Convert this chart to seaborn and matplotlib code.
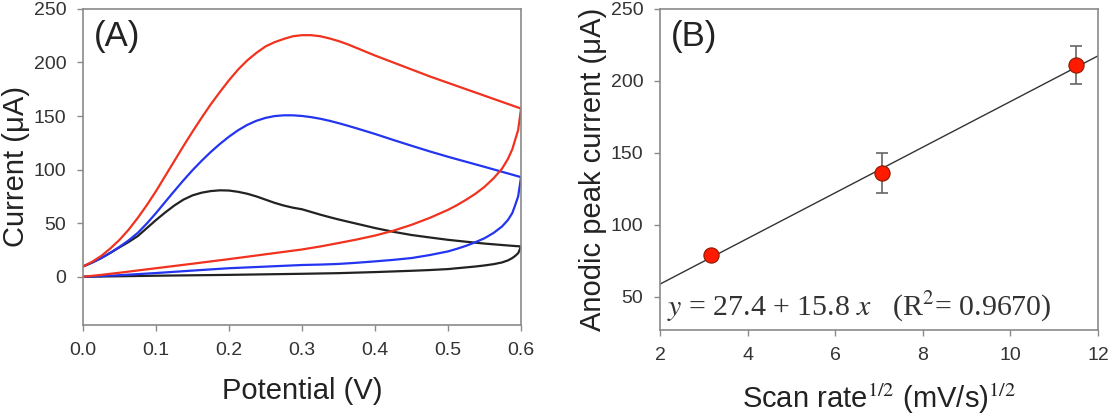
import pandas as pd
import seaborn as sns
import matplotlib.pyplot as plt

# (A) cyclic voltammograms: forward (anodic) and reverse branches
potential_fwd = [0.0, 0.0125, 0.025, 0.0375, 0.05, 0.0625, 0.075, 0.0875,
                 0.1, 0.1125, 0.125, 0.1375, 0.15, 0.1625, 0.175, 0.1875,
                 0.2, 0.2125, 0.225, 0.2375, 0.25, 0.2625, 0.275, 0.2875,
                 0.3, 0.3125, 0.325, 0.3375, 0.35, 0.3625, 0.375,
                 0.4, 0.425, 0.45, 0.475, 0.5, 0.525, 0.55, 0.575, 0.6]
red_fwd = [9.6, 14, 19.5, 26.5, 34.5, 44, 55, 67, 80, 94, 108, 122, 135.5,
           148.5, 161, 172.5, 183.5, 193.5, 202, 209, 215, 219, 222, 224.5,
           225.5, 225.5, 224.5, 222.5, 220, 217, 213.5, 206.5, 200, 193.5,
           187, 181, 175, 169, 163, 157]
blue_fwd = [9.6, 13.3, 17.5, 22.5, 28, 34, 41, 49.8, 59.5, 69.8, 80, 90,
            99.5, 108.3, 116.5, 124, 130.8, 136.8, 141.8, 145.6, 148.3, 150,
            150.7, 150.7, 150.1, 149, 147.5, 145.6, 143.4, 141, 138.5, 133.3,
            127.7, 122.3, 117, 112, 107.3, 102.6, 97.8, 93]
black_fwd = [9.6, 13.3, 17.5, 22.3, 27.5, 32.5, 38, 45.5, 53, 60, 66.5, 72,
             76, 78.5, 80, 80.7, 80.5, 79.3, 77.5, 75, 72, 69, 66.5, 64.5,
             63, 60.5, 58, 55.7, 53.5, 51.5, 49.5, 45.5, 42, 39, 36.7, 34.5,
             32.7, 31, 29.6, 28.3]

potential_rev = [0.6, 0.598, 0.596, 0.592, 0.588, 0.582, 0.574, 0.5625, 0.55,
                 0.5375, 0.525, 0.5125, 0.5, 0.475, 0.45, 0.425, 0.4, 0.375,
                 0.35, 0.325, 0.3, 0.25, 0.2, 0.15, 0.1, 0.05, 0.025, 0.0]
red_rev = [157, 147, 137, 128, 119, 110, 101, 92, 84, 77.5, 72, 67, 62.5, 55,
           48.5, 43, 38.5, 34.8, 31.5, 28.3, 25.5, 21, 16.5, 12.2, 8, 3.8,
           1.8, 0]
blue_rev = [93, 84, 75, 67, 59.5, 53, 47, 41, 36, 32.3, 29, 26.2, 23.7, 20.3,
            17.5, 15.8, 14.4, 13.1, 12, 11.4, 11, 9.5, 8, 5.8, 3.5, 1.5, 0.7, 0]
black_rev = [28.3, 25, 22, 19.5, 17.5, 15.3, 13.4, 11.8, 10.6, 9.6, 8.8, 8,
             7.2, 6.3, 5.6, 5, 4.4, 3.9, 3.4, 3.1, 2.8, 2.3, 1.8, 1.4, 1.0,
             0.5, 0.25, 0]

# (B) anodic peak current vs sqrt(scan rate)
sqrt_scan = [3.16, 7.07, 11.5]
peak_current = [79, 136, 211]
peak_err = [3, 14, 13]

sns.set_theme(style="ticks")
plt.rcParams["font.family"] = ["Liberation Sans", "DejaVu Sans"]
plt.rcParams["mathtext.fontset"] = "stix"

spine_col = "#8a8a8a"
tick_col = "#333333"

fig = plt.figure(figsize=(11.16, 4.17), dpi=100)
ax1 = fig.add_axes([0.0744, 0.2206, 0.3925, 0.758])
ax2 = fig.add_axes([0.5914, 0.2086, 0.3925, 0.770])

curves = [
    ("#222222", black_fwd, black_rev),
    ("#2335f0", blue_fwd, blue_rev),
    ("#f0321e", red_fwd, red_rev),
]
for color, fwd, rev in curves:
    df = pd.DataFrame({
        "potential": potential_fwd + potential_rev,
        "current": fwd + rev,
    })
    sns.lineplot(data=df, x="potential", y="current", sort=False,
                 estimator=None, color=color, linewidth=1.6,
                 solid_joinstyle="round", ax=ax1)

ax1.set_xlim(0, 0.6)
ax1.set_ylim(-45, 250)
ax1.set_xticks([0.0, 0.1, 0.2, 0.3, 0.4, 0.5, 0.6])
ax1.set_xticklabels(["0.0", "0.1", "0.2", "0.3", "0.4", "0.5", "0.6"])
ax1.set_yticks([0, 50, 100, 150, 200, 250])
ax1.set_xlabel("Potential (V)", fontsize=21, color="#222222", labelpad=13)
ax1.set_ylabel("Current (μA)", fontsize=21, color="#222222", labelpad=3)
ax1.text(0.025, 0.965, "(A)", transform=ax1.transAxes, fontsize=25,
         va="top", ha="left", color="#222222")

# right panel
ax2.set_xlim(2, 12)
ax2.set_ylim(27, 250)
pts = pd.DataFrame({"x": sqrt_scan, "y": peak_current})
sns.regplot(data=pts, x="x", y="y", ci=None, truncate=False, scatter=False,
            line_kws={"color": "#333333", "linewidth": 1.0}, ax=ax2)
ax2.errorbar(sqrt_scan, peak_current, yerr=peak_err, fmt="none",
             ecolor="#666666", elinewidth=1.2, capsize=4.5, capthick=1.2,
             zorder=3)
sns.scatterplot(data=pts, x="x", y="y", s=120, color="#ff1a00",
                edgecolor="#8b1a00", linewidth=0.8, zorder=4, ax=ax2)
ax2.set_xticks([2, 4, 6, 8, 10, 12])
ax2.set_yticks([50, 100, 150, 200, 250])
ax2.set_xlabel("Scan rate$^{1/2}$ (mV/s)$^{1/2}$", fontsize=21,
               color="#222222", labelpad=13)
ax2.set_ylabel("Anodic peak current (μA)", fontsize=21, color="#222222",
               labelpad=3)
ax2.text(0.024, 0.965, "(B)", transform=ax2.transAxes, fontsize=25,
         va="top", ha="left", color="#222222")
ax2.text(0.016, 0.045, "$y$ = 27.4 + 15.8 $x$   (R$^2$= 0.9670)",
         transform=ax2.transAxes, fontsize=21.5, va="baseline", ha="left",
         color="#333333", family=["Liberation Serif", "DejaVu Serif"])

for ax in (ax1, ax2):
    for sp in ax.spines.values():
        sp.set_color(spine_col)
        sp.set_linewidth(1.2)
    ax.tick_params(direction="out", length=4, width=1, color=spine_col,
                   labelsize=14, labelcolor=tick_col, pad=8)

fig.savefig("out.png", dpi=100)
